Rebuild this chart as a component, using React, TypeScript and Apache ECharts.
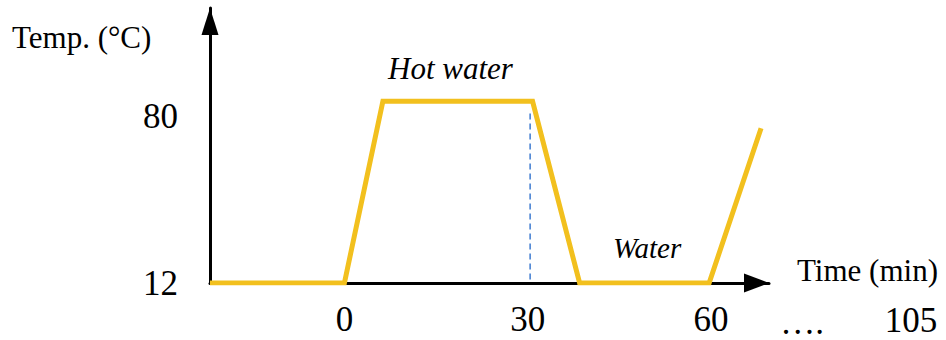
import { useEffect, useRef } from 'react';
import * as echarts from 'echarts';

// Schematic temperature profile
const timeMin = [-22, 0, 6.3, 30.8, 38.5, 59.7, 68.2];
const tempC = [12, 12, 86, 86, 12, 12, 75];
const xTickLabels = [0, 30, 60];
const yTickLabels = [12, 80];
const refLineTime = [30.4, 30.4];
const refLineTemp = [81, 12];
const breakLabel = '….';
const endLabel = '105';
const yTitle = 'Temp. (°C)';
const xTitle = 'Time (min)';
const hotLabel = 'Hot water';
const waterLabel = 'Water';

const SERIF = "'Liberation Serif', 'Times New Roman', serif";

export default function App() {
  const ref = useRef<HTMLDivElement>(null);

  useEffect(() => {
    if (!ref.current) return;
    const chart = echarts.init(ref.current, undefined, { renderer: 'svg' });
    const profile = timeMin.map((t, i) => [t, tempC[i]]);
    const refLine = refLineTime.map((t, i) => [t, refLineTemp[i]]);

    const txt = (text: string, x: number, y: number, size: number, align: string, italic = false) => ({
      type: 'text',
      x,
      y,
      silent: true,
      style: {
        text,
        fill: '#000',
        fontSize: size,
        fontFamily: SERIF,
        fontStyle: italic ? 'italic' : 'normal',
        align,
        textAlign: align,
        verticalAlign: 'middle',
        textVerticalAlign: 'middle',
      },
    });

    chart.setOption({
      animation: false,
      backgroundColor: '#ffffff',
      grid: { left: 210, right: 177, top: 8, bottom: 57, containLabel: false },
      xAxis: {
        type: 'value',
        min: -22,
        max: 69.5,
        splitLine: { show: false },
        axisTick: { show: false },
        axisLine: {
          show: true,
          onZero: false,
          symbol: ['none', 'triangle'],
          symbolSize: [19, 25],
          symbolOffset: [0, -12.5],
          lineStyle: { color: '#000', width: 3 },
        },
        axisLabel: {
          customValues: xTickLabels,
          formatter: (v: number) => String(v),
          color: '#000',
          fontSize: 35,
          fontFamily: SERIF,
          margin: 19,
        },
      },
      yAxis: {
        type: 'value',
        min: 12,
        max: 124,
        splitLine: { show: false },
        axisTick: { show: false },
        axisLine: {
          show: true,
          onZero: false,
          symbol: ['none', 'triangle'],
          symbolSize: [17, 27],
          symbolOffset: [0, -13.5],
          lineStyle: { color: '#000', width: 3 },
        },
        axisLabel: {
          customValues: yTickLabels,
          formatter: (v: number) => String(v),
          color: '#000',
          fontSize: 35,
          fontFamily: SERIF,
          margin: 32,
        },
      },
      series: [
        {
          type: 'line',
          data: refLine,
          symbol: 'none',
          silent: true,
          z: 1,
          lineStyle: { color: '#3D7BD0', width: 1.5, type: [6, 4] },
        },
        {
          type: 'line',
          data: profile,
          symbol: 'none',
          silent: true,
          z: 3,
          lineStyle: { color: '#F2C01E', width: 5, join: 'miter' },
        },
      ],
      graphic: [
        txt(yTitle, 12, 37, 31, 'left'),
        txt(hotLabel, 388, 68, 31, 'left', true),
        txt(waterLabel, 613, 248, 29, 'left', true),
        txt(xTitle, 797, 270, 31, 'left'),
        txt(breakLabel, 802, 322, 35, 'center'),
        txt(endLabel, 911, 320, 35, 'center'),
      ],
    });

    return () => chart.dispose();
  }, []);

  return (
    <div
      ref={ref}
      style={{ position: 'fixed', left: 0, top: 0, width: 946, height: 340, background: '#fff' }}
    />
  );
}
